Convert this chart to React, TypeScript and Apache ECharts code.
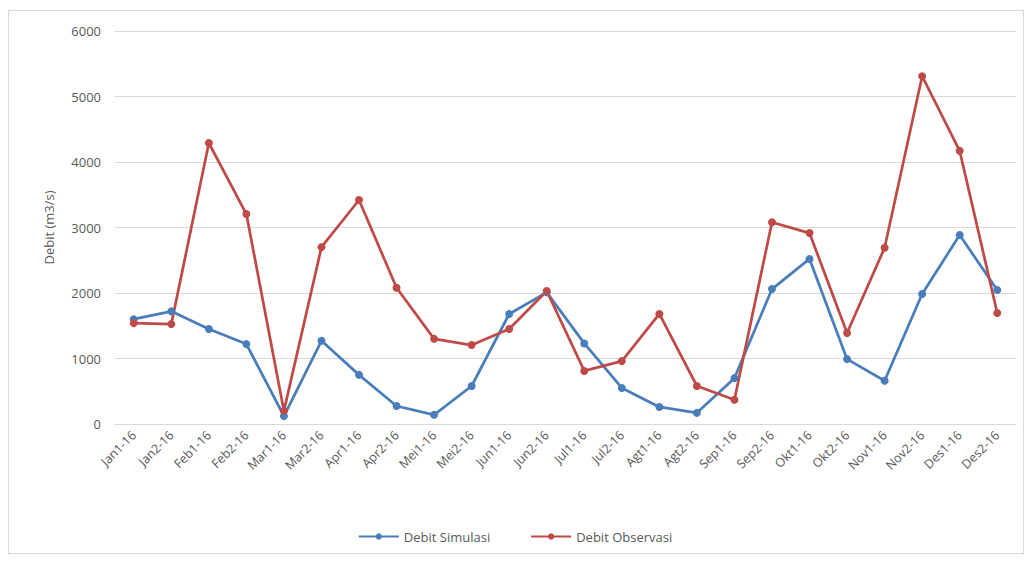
import React, { useEffect, useRef } from "react";
import * as echarts from "echarts";

const categories = [
  "Jan1-16", "Jan2-16", "Feb1-16", "Feb2-16", "Mar1-16", "Mar2-16",
  "Apr1-16", "Apr2-16", "Mei1-16", "Mei2-16", "Jun1-16", "Jun2-16",
  "Jul1-16", "Jul2-16", "Agt1-16", "Agt2-16", "Sep1-16", "Sep2-16",
  "Okt1-16", "Okt2-16", "Nov1-16", "Nov2-16", "Des1-16", "Des2-16",
];

const debitSimulasi = [
  1600, 1720, 1450, 1220, 120, 1270, 750, 275, 140, 580, 1680, 2010,
  1230, 550, 260, 170, 700, 2060, 2520, 990, 660, 1985, 2885, 2045,
];

const debitObservasi = [
  1540, 1525, 4290, 3205, 200, 2700, 3420, 2080, 1300, 1205, 1450, 2030,
  810, 960, 1680, 580, 370, 3080, 2915, 1390, 2690, 5310, 4170, 1695,
];

const yTicks = { min: 0, max: 6000, interval: 1000 };

const FONT = "'Open Sans', 'Liberation Sans', sans-serif";
const TEXT = "#595959";
const BLUE = "#4a7ebb";
const RED = "#be4b48";

export default function App() {
  const ref = useRef<HTMLDivElement>(null);
  useEffect(() => {
    if (!ref.current) return;
    const chart = echarts.init(ref.current, undefined, { renderer: "svg" });
    chart.setOption({
      animation: false,
      backgroundColor: "transparent",
      textStyle: { fontFamily: FONT },
      grid: { left: 115, right: 14, top: 31, bottom: 138, containLabel: false },
      xAxis: {
        type: "category",
        data: categories,
        boundaryGap: true,
        axisLine: { show: true, lineStyle: { color: "#d9d9d9", width: 1 } },
        axisTick: { show: false },
        axisLabel: {
          rotate: 45,
          interval: 0,
          margin: 9,
          color: TEXT,
          fontSize: 12.5,
          fontFamily: FONT,
        },
      },
      yAxis: {
        type: "value",
        min: yTicks.min,
        max: yTicks.max,
        interval: yTicks.interval,
        name: "Debit (m3/s)",
        nameLocation: "middle",
        nameGap: 60,
        nameRotate: 90,
        nameTextStyle: { color: TEXT, fontSize: 13, fontFamily: FONT },
        axisLine: { show: false },
        axisTick: { show: false },
        axisLabel: {
          color: TEXT,
          fontSize: 13,
          margin: 14,
          fontFamily: FONT,
          formatter: (v: number) => String(v),
        },
        splitLine: { lineStyle: { color: "#d9d9d9", width: 1 } },
      },
      legend: {
        bottom: 14,
        left: "center",
        itemWidth: 40,
        itemHeight: 8,
        itemGap: 40,
        textStyle: { color: TEXT, fontSize: 13, fontFamily: FONT },
        data: ["Debit Simulasi", "Debit Observasi"],
      },
      series: [
        {
          name: "Debit Simulasi",
          type: "line",
          data: debitSimulasi,
          symbol: "circle",
          symbolSize: 8,
          lineStyle: { color: BLUE, width: 2.75 },
          itemStyle: { color: BLUE },
        },
        {
          name: "Debit Observasi",
          type: "line",
          data: debitObservasi,
          symbol: "circle",
          symbolSize: 8,
          lineStyle: { color: RED, width: 2.75 },
          itemStyle: { color: RED },
        },
      ],
    });
    return () => chart.dispose();
  }, []);

  return (
    <div
      style={{
        position: "fixed",
        left: 0,
        top: 0,
        width: 1030,
        height: 562,
        background: "#fff",
      }}
    >
      <div
        style={{
          position: "absolute",
          left: 8,
          top: 10,
          width: 1016,
          height: 544,
          border: "1px solid #d9d9d9",
          boxSizing: "border-box",
        }}
      />
      <div ref={ref} style={{ position: "absolute", left: 0, top: 0, width: 1030, height: 562 }} />
    </div>
  );
}
